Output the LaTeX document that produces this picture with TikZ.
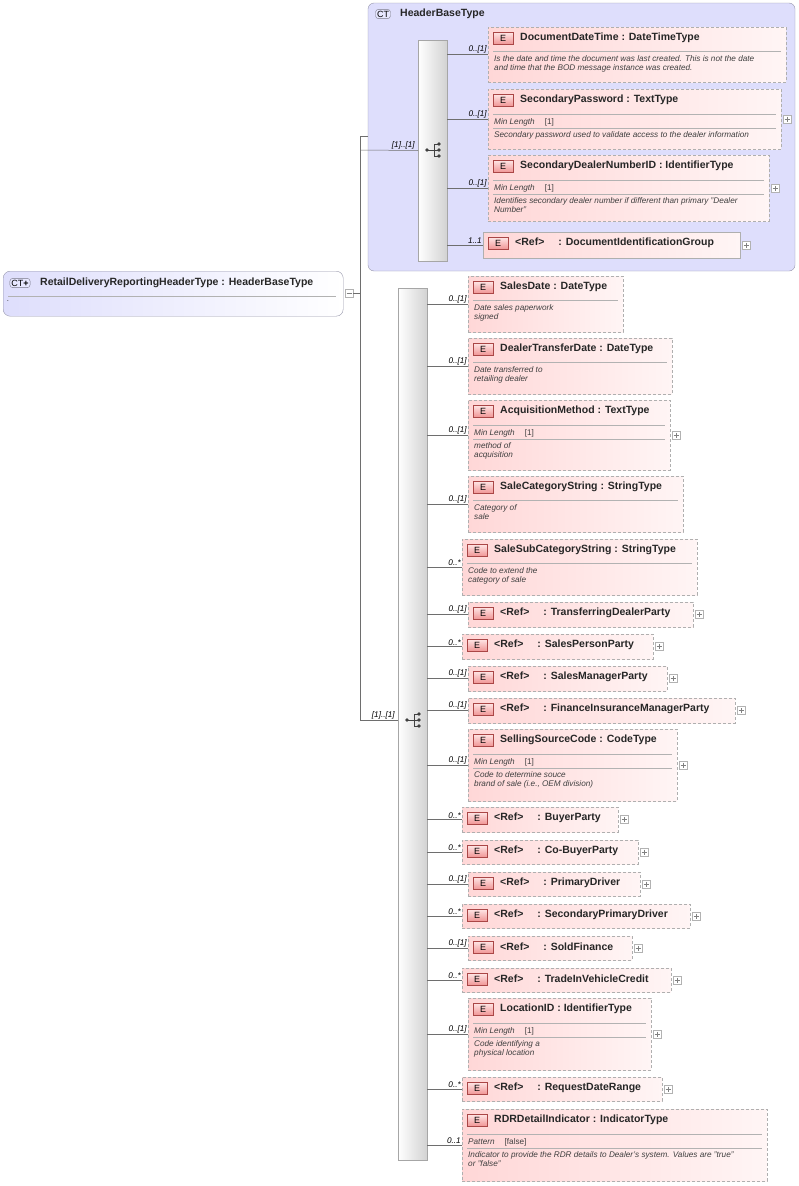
\documentclass[tikz,border=0pt]{standalone}
\usepackage{fontspec}
\setmainfont{Liberation Sans}
\usetikzlibrary{calc}
\definecolor{elemred}{RGB}{255,215,215}
\definecolor{elemedge}{RGB}{175,175,175}
\definecolor{badgered}{RGB}{240,150,150}
\definecolor{badgeedge}{RGB}{170,70,70}
\definecolor{ctfill}{RGB}{222,222,252}
\definecolor{ctedge}{RGB}{150,150,170}
\definecolor{wire}{RGB}{110,110,110}
\tikzset{
  elem/.style={draw=elemedge, dashed, dash pattern=on 3pt off 2pt, left color=elemred, right color=elemred!25, inner sep=0, outer sep=0},
  reqelem/.style={draw=elemedge, left color=elemred, right color=elemred!25, inner sep=0, outer sep=0},
  ebadge/.style={draw=badgeedge, top color=elemred!60, bottom color=badgered, minimum width=20pt, minimum height=12pt, inner sep=0, font=\fontsize{9}{9}\selectfont},
  ttl/.style={anchor=west, inner sep=0, font=\fontsize{10.5}{11}\selectfont\bfseries, text=black!85},
  dsc/.style={anchor=north west, inner sep=0, align=left, font=\fontsize{8.2}{9.6}\selectfont\itshape, text=black!75},
  mult/.style={anchor=south east, inner sep=1pt, font=\fontsize{8.2}{8}\selectfont\itshape},
  seq/.style={draw=gray!70, left color=white, right color=gray!35, inner sep=0, outer sep=0},
  plusbox/.style={draw=gray!60, fill=white, minimum size=8pt, inner sep=0},
  wire/.style={draw=wire, line width=0.5pt}
}
% box, badge, title, connector from sequence bar
\newcommand\elem[9]{% id x1 y1 x2 y2 title seq mult style
  \pgfmathsetmacro\ew{#4-#2}\pgfmathsetmacro\eh{#5-#3}
  \node[#9, minimum width=\ew pt, minimum height=\eh pt, anchor=north west] (#1) at (#2,#3) {};
  \node[ebadge] (#1b) at ($(#1.north west)+(15,11)$) {E};
  \node[ttl] (#1t) at ($(#1.north west)+(32,11)$) {#6};
  \draw[wire] (#7.east |- #1.west) -- node[mult, pos=1] {#8} (#1.west);
}
\newcommand\sepl[2]{\draw[gray!60] ($(#1.north west)+(5,#2)$) -- ($(#1.north east)+(-5,#2)$);}
\newcommand\dtxt[3]{\node[dsc] at ($(#1.north west)+(6,#2)$) {#3};}
\newcommand\mlen[3]{%
  \sepl{#1}{25}\node[dsc] at ($(#1.north west)+(6,29)$) {#2\hspace{10pt}\upshape [#3]};\sepl{#1}{39}}
\newcommand\plusof[1]{\node[plusbox] (#1p) at ($(#1.east)+(6,0)$) {};
  \draw[gray] ($(#1p)+(-2.5,0)$) -- ($(#1p)+(2.5,0)$) ($(#1p)+(0,-2.5)$) -- ($(#1p)+(0,2.5)$);}
\newcommand\seqicon[1]{%
  \draw[black!75, line width=0.7pt] ($(#1)+(-7,0)$) -- ($(#1)+(4,0)$) ($(#1)+(0,-6)$) -- ($(#1)+(0,6)$)
    ($(#1)+(0,-6)$) -- ($(#1)+(4,-6)$) ($(#1)+(0,6)$) -- ($(#1)+(4,6)$);
  \fill[black!75] ($(#1)+(-7,0)$) circle (1.8pt);
  \foreach \d in {-6,0,6} \fill[black!75] ($(#1)+(5,\d)$) circle (1.8pt);}
\begin{document}
\begin{tikzpicture}[x=1pt,y=-1pt]
\useasboundingbox (0,0) rectangle (798,1186);
% header base type group
\draw[ctedge, fill=ctfill, rounded corners=6pt] (368,3) rectangle (795,271);
\node[draw=ctedge!80!black, rounded corners=3pt, fill=ctfill!60!blue!20, inner sep=1.5pt, font=\fontsize{9}{9}\selectfont] (ctb) at (383,14) {CT};
\node[ttl] (ctt) at (400,14) {HeaderBaseType};
% root
\node[draw=ctedge, rounded corners=7pt, left color=ctfill, right color=white, minimum width=340pt, minimum height=45pt, anchor=north west, inner sep=0] (root) at (3,271) {};
\node[draw=ctedge!80!black, rounded corners=3pt, fill=ctfill!60!blue!20, inner sep=1.5pt, font=\fontsize{9}{9}\selectfont] (rootb) at (20,283) {CT\textbf{+}};
\node[ttl] (roott) at (40,283) {RetailDeliveryReportingHeaderType : HeaderBaseType};
\draw[gray!60] (8,296) -- (336,296);
\node[dsc] at (7,300) {.};
\node[plusbox] (rootm) at (349,293) {};
\draw[gray] (346.5,293) -- (351.5,293);
% sequences
\node[seq, minimum width=29pt, minimum height=221pt, anchor=north west] (seqA) at (418,40) {};
\seqicon{434,150}
\node[seq, minimum width=29pt, minimum height=872pt, anchor=north west] (seqB) at (398,288) {};
\seqicon{414,720}
\coordinate (hub) at (360,293);
\draw[wire] (rootm.east) -- (hub);
\draw[wire] (368,136) -- (360,136) -- (360,720) -- node[mult, pos=1, xshift=-2pt] {[1]..[1]} (seqB.west |- 0,720);
\draw[wire] (360,150) -- node[mult, pos=1, xshift=-2pt] {[1]..[1]} (seqA.west);
% header elements
\elem{ddt}{488}{27}{786}{82}{DocumentDateTime : DateTimeType}{seqA}{0..[1]}{elem}
\sepl{ddt}{24}\dtxt{ddt}{28}{Is the date and time the document was last created. This is not the date\\and time that the BOD message instance was created.}
\elem{spw}{488}{89}{781}{149}{SecondaryPassword : TextType}{seqA}{0..[1]}{elem}
\mlen{spw}{Min Length}{1}\dtxt{spw}{42}{Secondary password used to validate access to the dealer information}\plusof{spw}
\elem{sdn}{488}{155}{769}{221}{SecondaryDealerNumberID : IdentifierType}{seqA}{0..[1]}{elem}
\mlen{sdn}{Min Length}{1}\dtxt{sdn}{42}{Identifies secondary dealer number if different than primary "Dealer\\Number"}\plusof{sdn}
\elem{dig}{483}{232}{740}{258}{<Ref>\hspace{14pt}: DocumentIdentificationGroup}{seqA}{1..1}{reqelem}\plusof{dig}
% detail elements
\elem{sd}{468}{276}{623}{332}{SalesDate : DateType}{seqB}{0..[1]}{elem}
\sepl{sd}{24}\dtxt{sd}{28}{Date sales paperwork\\signed}
\elem{dtd}{468}{338}{672}{394}{DealerTransferDate : DateType}{seqB}{0..[1]}{elem}
\sepl{dtd}{24}\dtxt{dtd}{28}{Date transferred to\\retailing dealer}
\elem{am}{468}{400}{670}{470}{AcquisitionMethod : TextType}{seqB}{0..[1]}{elem}
\mlen{am}{Min Length}{1}\dtxt{am}{42}{method of\\acquisition}\plusof{am}
\elem{scs}{468}{476}{683}{532}{SaleCategoryString : StringType}{seqB}{0..[1]}{elem}
\sepl{scs}{24}\dtxt{scs}{28}{Category of\\sale}
\elem{sscs}{462}{539}{697}{595}{SaleSubCategoryString : StringType}{seqB}{0..*}{elem}
\sepl{sscs}{24}\dtxt{sscs}{28}{Code to extend the\\category of sale}
\elem{tdp}{468}{602}{693}{627}{<Ref>\hspace{14pt}: TransferringDealerParty}{seqB}{0..[1]}{elem}\plusof{tdp}
\elem{spp}{462}{634}{653}{659}{<Ref>\hspace{14pt}: SalesPersonParty}{seqB}{0..*}{elem}\plusof{spp}
\elem{smp}{468}{666}{667}{691}{<Ref>\hspace{14pt}: SalesManagerParty}{seqB}{0..[1]}{elem}\plusof{smp}
\elem{fim}{468}{698}{735}{723}{<Ref>\hspace{14pt}: FinanceInsuranceManagerParty}{seqB}{0..[1]}{elem}\plusof{fim}
\elem{ssc}{468}{729}{677}{801}{SellingSourceCode : CodeType}{seqB}{0..[1]}{elem}
\mlen{ssc}{Min Length}{1}\dtxt{ssc}{42}{Code to determine souce\\brand of sale (i.e., OEM division)}\plusof{ssc}
\elem{bp}{462}{807}{618}{832}{<Ref>\hspace{14pt}: BuyerParty}{seqB}{0..*}{elem}\plusof{bp}
\elem{cbp}{462}{840}{638}{864}{<Ref>\hspace{14pt}: Co-BuyerParty}{seqB}{0..*}{elem}\plusof{cbp}
\elem{pd}{468}{872}{640}{896}{<Ref>\hspace{14pt}: PrimaryDriver}{seqB}{0..[1]}{elem}\plusof{pd}
\elem{spd}{462}{904}{690}{928}{<Ref>\hspace{14pt}: SecondaryPrimaryDriver}{seqB}{0..*}{elem}\plusof{spd}
\elem{sf}{468}{936}{632}{960}{<Ref>\hspace{14pt}: SoldFinance}{seqB}{0..[1]}{elem}\plusof{sf}
\elem{tvc}{462}{968}{671}{992}{<Ref>\hspace{14pt}: TradeInVehicleCredit}{seqB}{0..*}{elem}\plusof{tvc}
\elem{lid}{468}{998}{651}{1070}{LocationID : IdentifierType}{seqB}{0..[1]}{elem}
\mlen{lid}{Min Length}{1}\dtxt{lid}{42}{Code identifying a\\physical location}\plusof{lid}
\elem{rdr}{462}{1077}{662}{1101}{<Ref>\hspace{14pt}: RequestDateRange}{seqB}{0..*}{elem}\plusof{rdr}
\elem{rdi}{462}{1109}{767}{1181}{RDRDetailIndicator : IndicatorType}{seqB}{0..1}{elem}
\mlen{rdi}{Pattern}{false}\dtxt{rdi}{42}{Indicator to provide the RDR details to Dealer's system. Values are "true"\\or "false"}
\end{tikzpicture}
\end{document}
